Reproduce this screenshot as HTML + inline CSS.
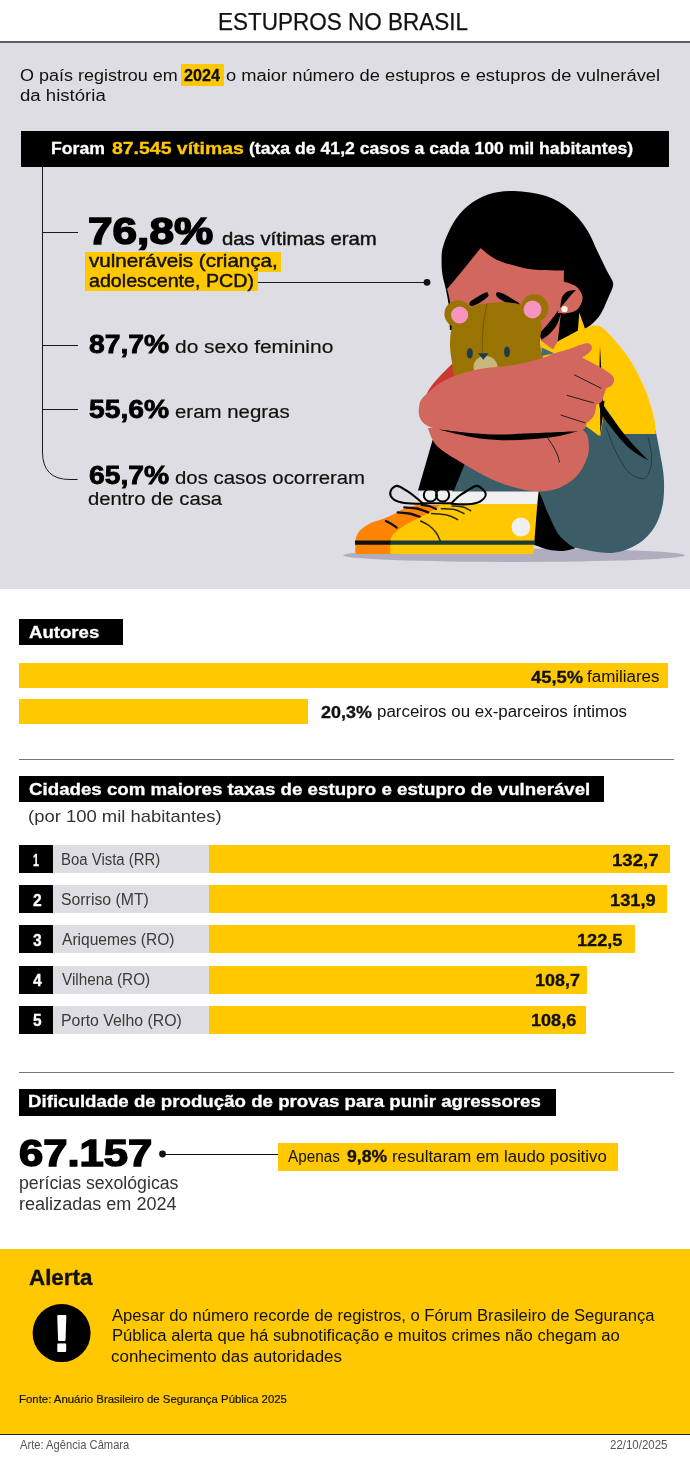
<!DOCTYPE html>
<html lang="pt-BR"><head><meta charset="utf-8"><title>Estupros no Brasil</title>
<style>
html,body{margin:0;padding:0;background:#fff}
body{width:690px;height:1460px;position:relative;overflow:hidden;font-family:"Liberation Sans",sans-serif}
.b{position:absolute}
.t{position:absolute;white-space:nowrap;line-height:1;margin:0;transform-origin:0 0}
svg{position:absolute;left:0;top:0}
</style></head><body>
<div class="b" style="left:0px;top:42.5px;width:690px;height:546.5px;background:#dedde3"></div>
<div class="b" style="left:0px;top:41px;width:690px;height:1.6px;background:#5e5e64"></div>
<div class="b" style="left:181px;top:63.5px;width:43px;height:22.0px;background:#ffc800"></div>
<div class="b" style="left:21px;top:131px;width:647.5px;height:36px;background:#000"></div>
<div class="b" style="left:85px;top:251.5px;width:196px;height:20.5px;background:#ffc800"></div>
<div class="b" style="left:85px;top:271px;width:172.5px;height:20px;background:#ffc800"></div>
<div class="b" style="left:19px;top:619px;width:103.5px;height:26px;background:#000"></div>
<div class="b" style="left:19px;top:662.5px;width:648.7px;height:25.5px;background:#ffc800"></div>
<div class="b" style="left:19px;top:698.5px;width:289.2px;height:25.3px;background:#ffc800"></div>
<div class="b" style="left:19px;top:759px;width:654.5px;height:1px;background:#777"></div>
<div class="b" style="left:19px;top:776px;width:584.5px;height:26px;background:#000"></div>
<div class="b" style="left:52px;top:845.0px;width:157.5px;height:28.2px;background:#dedde3"></div>
<div class="b" style="left:19px;top:845.0px;width:33.9px;height:28.2px;background:#000"></div>
<div class="b" style="left:208.5px;top:845.0px;width:461.5px;height:28.2px;background:#ffc800"></div>
<div class="b" style="left:52px;top:885.1px;width:157.5px;height:28.2px;background:#dedde3"></div>
<div class="b" style="left:19px;top:885.1px;width:33.9px;height:28.2px;background:#000"></div>
<div class="b" style="left:208.5px;top:885.1px;width:458.0px;height:28.2px;background:#ffc800"></div>
<div class="b" style="left:52px;top:925.3px;width:157.5px;height:28.2px;background:#dedde3"></div>
<div class="b" style="left:19px;top:925.3px;width:33.9px;height:28.2px;background:#000"></div>
<div class="b" style="left:208.5px;top:925.3px;width:426.3px;height:28.2px;background:#ffc800"></div>
<div class="b" style="left:52px;top:965.5px;width:157.5px;height:28.2px;background:#dedde3"></div>
<div class="b" style="left:19px;top:965.5px;width:33.9px;height:28.2px;background:#000"></div>
<div class="b" style="left:208.5px;top:965.5px;width:378.1px;height:28.2px;background:#ffc800"></div>
<div class="b" style="left:52px;top:1005.6px;width:157.5px;height:28.2px;background:#dedde3"></div>
<div class="b" style="left:19px;top:1005.6px;width:33.9px;height:28.2px;background:#000"></div>
<div class="b" style="left:208.5px;top:1005.6px;width:377.2px;height:28.2px;background:#ffc800"></div>
<div class="b" style="left:19px;top:1072px;width:654.5px;height:1px;background:#777"></div>
<div class="b" style="left:19px;top:1089px;width:537px;height:26.5px;background:#000"></div>
<div class="b" style="left:277.5px;top:1142.5px;width:340.0px;height:28.5px;background:#ffc800"></div>
<div class="b" style="left:162.5px;top:1153.5px;width:115.5px;height:1.0px;background:#111"></div>
<div class="b" style="left:0px;top:1248.5px;width:690px;height:185.5px;background:#ffc800"></div>
<div class="b" style="left:0px;top:1433.5px;width:690px;height:1.5px;background:#222"></div>
<svg width="690" height="600" viewBox="0 0 690 600">
<path d="M42.5 167V452Q42.5 479.5 70 479.5H77.5" fill="none" stroke="#1a1a1a" stroke-width="1"/>
<path d="M42.5 232.5H77.5M42.5 345.5H77.5M42.5 409.5H77.5" fill="none" stroke="#1a1a1a" stroke-width="1" shape-rendering="crispEdges"/>
<path d="M257.5 282.5H427" stroke="#1a1a1a" stroke-width="1" shape-rendering="crispEdges"/><circle cx="427" cy="282.3" r="3.4" fill="#111"/>
<ellipse cx="514" cy="555.3" rx="171" ry="6.7" fill="#afadbf"/>
<path d="M449.0 306.0C449.0 306.0 447.1 295.2 446.0 290.0C444.9 284.8 443.2 279.7 442.5 275.0C441.8 270.3 441.5 266.7 441.6 262.0C441.7 257.3 441.1 253.1 443.0 246.7C444.9 240.3 448.9 230.3 453.0 223.5C457.1 216.7 461.9 210.8 467.7 206.0C473.5 201.2 480.3 197.0 488.0 194.5C495.7 192.0 504.3 190.8 514.0 191.0C523.7 191.2 536.8 193.0 546.0 196.0C555.2 199.0 562.2 203.5 569.0 209.0C575.8 214.5 581.7 221.8 586.5 229.0C591.3 236.2 594.6 245.5 598.0 252.5C601.4 259.5 604.7 266.4 607.0 271.0C609.3 275.6 611.0 277.5 612.0 280.0C613.0 282.5 613.5 283.3 613.0 286.0C612.5 288.7 611.0 291.4 609.0 296.0C607.0 300.6 603.8 308.9 601.0 313.5C598.2 318.1 595.2 321.0 592.5 323.6C589.8 326.2 585.0 329.0 585.0 329.0C585.0 329.0 556.0 344.0 556.0 344.0C556.0 344.0 540.0 338.0 540.0 338.0C540.0 338.0 450.0 330.0 450.0 330.0C450.0 330.0 449.0 306.0 449.0 306.0Z" fill="#000" />
<path d="M598.0 400.0C598.0 400.0 655.5 430.0 655.5 430.0C655.5 430.0 660.2 453.1 661.6 461.6C663.0 470.2 663.8 474.3 664.0 481.3C664.2 488.3 664.1 496.4 662.9 503.4C661.7 510.3 659.6 517.2 656.7 523.0C653.8 528.8 649.9 533.9 645.6 538.0C641.3 542.1 636.1 545.3 630.8 547.8C625.5 550.2 619.8 552.1 613.6 552.7C607.5 553.3 600.5 552.3 593.9 551.5C587.3 550.7 581.0 548.2 574.0 547.8C567.0 547.4 552.0 549.0 552.0 549.0C552.0 549.0 452.0 492.0 452.0 492.0C452.0 492.0 464.5 461.0 464.5 461.0C464.5 461.0 540.0 430.0 540.0 430.0C540.0 430.0 598.0 400.0 598.0 400.0Z" fill="#3a5d67" />
<path d="M432.6 440.0L418.0 490.5L454.0 490.5L465.5 462.0L450.0 445.0Z" fill="#000" />
<path d="M539.3 492.0C539.3 492.0 541.5 497.4 543.0 501.0C544.5 504.6 545.5 507.9 548.0 513.3C550.5 518.7 554.6 528.5 558.0 533.6C561.4 538.7 565.4 541.3 568.3 543.8C571.2 546.2 575.5 548.3 575.5 548.3C575.5 548.3 567.1 550.8 562.5 551.0C557.9 551.2 553.1 550.8 548.0 549.6C542.9 548.4 532.0 544.0 532.0 544.0C532.0 544.0 532.0 492.0 532.0 492.0C532.0 492.0 539.3 492.0 539.3 492.0Z" fill="#000" />
<path d="M579.3 312.6C579.3 312.6 585.0 328.5 585.0 328.5C585.0 328.5 591.2 325.8 594.0 325.6C596.8 325.4 598.7 325.3 602.0 327.5C605.3 329.7 608.8 333.4 613.6 339.0C618.4 344.6 625.5 352.4 630.8 361.0C636.1 369.6 641.7 381.3 645.6 390.8C649.5 400.3 652.3 410.8 654.0 418.0C655.7 425.2 655.8 434.0 655.8 434.0C655.8 434.0 623.4 434.0 623.4 434.0C623.4 434.0 605.0 407.0 605.0 407.0C605.0 407.0 600.5 436.0 600.5 436.0C600.5 436.0 584.0 425.0 584.0 425.0C584.0 425.0 560.0 390.0 560.0 390.0C560.0 390.0 540.0 356.0 540.0 356.0C540.0 356.0 540.5 340.0 540.5 340.0C540.5 340.0 553.0 349.0 553.0 349.0C553.0 349.0 557.0 342.0 557.0 342.0C557.0 342.0 578.0 330.6 578.0 330.6C578.0 330.6 579.3 312.6 579.3 312.6Z" fill="#ffc800" />
<path d="M600.5 401.0L584.5 424.6L599.0 436.0Z" fill="#ffc800" />
<path d="M600.0 346.0C600.0 346.0 601.4 370.3 602.0 380.0C602.6 389.7 601.7 397.5 603.5 404.0C605.3 410.5 608.7 412.9 613.0 419.0C617.3 425.1 623.6 433.6 629.5 440.5C635.4 447.4 648.5 460.5 648.5 460.5C648.5 460.5 635.4 453.8 629.0 448.0C622.6 442.2 614.8 432.5 610.0 426.0C605.2 419.5 601.8 416.7 600.0 409.0C598.2 401.3 599.4 390.5 599.4 380.0C599.4 369.5 600.0 346.0 600.0 346.0Z" fill="#000" />
<path d="M600.0 402.5L604.5 400.5L603.0 415.0L600.3 434.0Z" fill="#000" />
<path d="M606.0 427.0C607.5 430.8 611.3 442.6 615.0 450.0C618.7 457.4 623.3 466.6 628.0 471.4C632.7 476.2 639.3 479.0 643.0 478.8C646.7 478.6 648.6 474.0 650.0 470.0C651.4 466.0 651.8 460.5 651.5 455.0C651.2 449.5 648.6 440.0 648.0 437.0" fill="none" stroke="#1f3d47" stroke-width="1" stroke-linecap="round" stroke-linejoin="round" />
<path d="M480.7 248.0C480.7 248.0 489.2 256.3 496.7 259.7C504.2 263.1 516.5 266.6 525.7 268.4C534.9 270.1 545.3 269.8 551.7 270.2C558.1 270.6 564.0 270.6 564.0 270.6C564.0 270.6 563.5 300.0 563.5 300.0C563.5 300.0 558.4 312.0 558.4 312.0C558.4 312.0 539.6 333.8 539.6 333.8C539.6 333.8 500.0 345.0 500.0 345.0C500.0 345.0 452.0 330.0 452.0 330.0C452.0 330.0 450.5 304.0 450.5 304.0C450.5 304.0 448.8 295.4 448.2 293.0C447.6 290.6 447.0 289.3 447.0 289.3C447.0 289.3 463.0 270.0 463.0 270.0C463.0 270.0 480.7 248.0 480.7 248.0Z" fill="#d1675d" />
<path d="M558.4 313.0L560.7 315.0L557.8 341.0L553.0 349.5L540.5 340.5L540.0 337.0Z" fill="#d1675d" />
<path d="M558.2 310.5C558.2 310.5 553.7 316.7 551.5 319.5C549.3 322.3 547.1 325.1 545.0 327.5C542.9 329.9 538.8 334.0 538.8 334.0C538.8 334.0 541.8 339.5 541.8 339.5C541.8 339.5 547.5 336.0 550.0 333.5C552.5 331.0 555.2 327.7 557.0 324.5C558.8 321.3 560.5 314.5 560.5 314.5C560.5 314.5 558.2 310.5 558.2 310.5Z" fill="#000" />
<path d="M561.0 281.0C561.0 281.0 567.2 282.3 570.0 283.5C572.8 284.7 575.9 285.8 578.0 288.0C580.1 290.2 582.3 294.0 582.6 297.0C582.9 300.0 581.4 303.6 580.0 306.0C578.6 308.4 576.7 310.2 574.0 311.5C571.3 312.8 564.0 313.5 564.0 313.5C564.0 313.5 558.0 313.0 558.0 313.0C558.0 313.0 561.0 281.0 561.0 281.0Z" fill="#d1675d" />
<path d="M576.0 290.0C576.0 290.0 569.8 290.2 567.5 291.5C565.2 292.8 563.2 294.8 562.0 297.5C560.8 300.2 560.3 308.0 560.3 308.0C560.3 308.0 563.0 304.8 564.5 303.0C566.0 301.2 567.6 299.2 569.0 297.5C570.4 295.8 571.8 294.2 573.0 293.0C574.2 291.8 576.0 290.0 576.0 290.0Z" fill="#000" />
<circle cx="564.5" cy="309.1" r="3.2" fill="#fbf6ee"/>
<path d="M469.5 303.5C469.7 302.8 469.6 302.1 471.0 301.0C472.4 299.9 475.2 298.2 477.7 296.8C480.1 295.4 484.0 293.1 485.7 292.5C487.4 291.9 487.6 292.8 488.0 293.5C488.4 294.2 489.0 295.3 488.0 296.6C487.0 297.9 484.3 299.7 482.0 301.2C479.7 302.7 476.0 304.8 474.0 305.5C472.0 306.2 470.8 305.8 470.0 305.5C469.2 305.2 469.3 304.2 469.5 303.5Z" fill="#000" />
<path d="M496.8 292.5C497.8 292.0 499.7 292.1 502.3 293.2C504.9 294.3 509.7 297.3 512.5 299.0C515.3 300.7 518.2 302.4 519.3 303.5C520.3 304.6 520.4 305.5 518.8 305.6C517.2 305.7 512.6 305.0 509.6 304.0C506.6 303.0 503.1 301.0 500.9 299.7C498.7 298.4 497.3 297.2 496.6 296.0C495.9 294.8 495.9 293.0 496.8 292.5Z" fill="#000" />
<path d="M424.0 400.0C424.0 400.0 427.3 392.0 430.0 388.0C432.7 384.0 436.3 380.0 440.0 376.0C443.7 372.0 452.0 364.0 452.0 364.0C452.0 364.0 462.0 376.0 462.0 376.0C462.0 376.0 440.0 392.0 440.0 392.0C440.0 392.0 424.0 400.0 424.0 400.0Z" fill="#c9392f" />
<circle cx="458" cy="313.8" r="13.6" fill="#9a7402"/><circle cx="534.5" cy="308.3" r="14" fill="#9a7402"/>
<path d="M452.5 366.0C451.7 360.0 450.1 352.3 450.0 346.0C449.9 339.7 450.4 333.2 451.7 328.0C453.0 322.8 454.9 318.5 458.0 315.0C461.1 311.5 464.7 309.0 470.0 307.0C475.3 305.0 482.7 303.7 490.0 303.0C497.3 302.3 507.3 302.0 514.0 303.0C520.7 304.0 525.5 305.7 530.0 309.0C534.5 312.3 539.3 317.5 541.0 323.0C542.7 328.5 539.8 336.5 540.0 342.0C540.2 347.5 541.5 351.0 542.5 356.0C543.5 361.0 546.0 372.0 546.0 372.0C546.0 372.0 455.0 382.0 455.0 382.0C455.0 382.0 453.3 372.0 452.5 366.0Z" fill="#9a7402" />
<circle cx="459.6" cy="315" r="8.6" fill="#f693bf"/><circle cx="532.5" cy="309.5" r="9" fill="#f693bf"/>
<path d="M541.7 347.5L554.0 353.3L541.7 356.0Z" fill="#3f6b7c" />
<path d="M487.0 304.0C486.5 306.7 484.8 314.3 484.0 320.0C483.2 325.7 482.8 332.7 482.5 338.0C482.2 343.3 482.5 349.7 482.5 352.0" fill="none" stroke="#6e5809" stroke-width="1" stroke-linecap="round" stroke-linejoin="round" />
<ellipse cx="485.5" cy="367" rx="12" ry="11" fill="#c9b57e"/>
<ellipse cx="469.8" cy="353.3" rx="3" ry="5.2" fill="#1e3b4a"/><ellipse cx="507" cy="351.8" rx="3" ry="5.2" fill="#1e3b4a"/>
<path d="M478.0 353.3L488.6 353.3L483.3 359.8Z" fill="#1e3b4a" />
<path d="M428.0 428.0C428.0 428.0 431.2 440.1 437.0 446.0C442.8 451.9 454.3 458.2 463.0 463.5C471.7 468.8 480.8 474.1 489.0 478.0C497.2 481.9 504.2 484.5 512.0 486.7C519.8 488.9 528.0 491.0 535.5 491.3C543.0 491.6 550.1 491.2 557.0 488.7C563.9 486.1 571.5 481.6 576.7 476.0C581.9 470.4 586.2 461.7 588.0 455.0C589.8 448.3 588.8 440.5 587.5 436.0C586.2 431.5 580.0 428.0 580.0 428.0C580.0 428.0 500.0 424.0 500.0 424.0C500.0 424.0 428.0 428.0 428.0 428.0Z" fill="#d1675d" />
<path d="M547.0 437.0C548.0 438.5 551.2 443.0 553.0 446.0C554.8 449.0 556.4 452.3 557.5 455.0C558.6 457.7 559.1 460.8 559.4 462.0" fill="none" stroke="#222" stroke-width="1" stroke-linecap="round" stroke-linejoin="round" />
<path d="M418.8 409.6C419.0 406.6 419.3 402.9 421.0 400.0C422.7 397.1 425.8 394.8 429.0 392.0C432.2 389.2 435.2 385.9 440.0 383.0C444.8 380.1 451.3 377.1 458.0 374.8C464.7 372.5 470.3 370.7 480.0 369.0C489.7 367.3 505.2 366.6 516.0 364.6C526.8 362.6 539.0 358.8 545.0 357.0C551.0 355.2 548.0 355.3 552.0 354.0C556.0 352.7 564.4 350.6 569.3 349.0C574.2 347.4 578.3 345.4 581.6 344.5C584.9 343.6 587.3 343.0 589.0 343.5C590.7 344.0 592.0 346.2 592.0 347.7C592.0 349.2 590.7 351.1 589.0 352.7C587.3 354.3 582.0 357.5 582.0 357.5C582.0 357.5 589.5 361.2 594.0 363.7C598.5 366.2 605.4 369.9 608.7 372.4C612.0 374.9 613.4 376.4 614.0 378.5C614.6 380.6 613.7 383.0 612.4 384.7C611.1 386.4 606.2 388.6 606.2 388.6C606.2 388.6 604.5 393.6 603.7 395.8C602.9 398.0 602.5 400.5 601.3 402.0C600.1 403.5 596.4 404.6 596.4 404.6C596.4 404.6 595.8 410.6 595.0 413.0C594.2 415.4 592.8 417.3 591.4 419.0C590.0 420.7 586.5 423.0 586.5 423.0C586.5 423.0 586.5 426.2 585.3 427.8C584.0 429.4 579.0 432.5 579.0 432.5C579.0 432.5 584.9 431.2 576.8 431.3C568.7 431.4 543.0 432.8 530.4 433.3C517.8 433.8 511.0 434.5 501.4 434.5C491.8 434.5 483.1 434.1 472.5 433.3C461.9 432.5 437.7 429.6 437.7 429.6C437.7 429.6 428.9 426.9 426.0 425.0C423.1 423.1 421.2 420.6 420.0 418.0C418.8 415.4 418.6 412.6 418.8 409.6Z" fill="#d1675d" />
<path d="M437.7 429.3C437.7 429.3 461.9 432.4 472.5 433.3C483.1 434.2 491.8 434.5 501.4 434.5C511.0 434.5 517.7 433.8 530.4 433.3C543.1 432.8 577.5 431.3 577.5 431.3C577.5 431.3 567.2 434.6 559.4 435.9C551.5 437.2 540.1 438.6 530.4 439.3C520.7 440.0 511.0 440.5 501.4 440.2C491.8 439.9 483.1 439.1 472.5 437.3C461.9 435.5 437.7 429.3 437.7 429.3Z" fill="#000" />
<path d="M574.2 374.8L601.3 388.4" stroke="#222" stroke-width="1"/>
<path d="M566.8 395.3L593.9 403" stroke="#222" stroke-width="1"/>
<path d="M560.6 415L585.3 422.9" stroke="#222" stroke-width="1"/>
<path d="M356.5 553.9C356.5 553.9 355.3 552.0 355.3 552.0C355.3 552.0 355.3 541.0 355.3 541.0C355.3 541.0 356.0 537.3 356.8 535.5C357.6 533.7 357.8 532.4 360.0 530.4C362.2 528.4 366.2 525.3 370.3 523.3C374.4 521.3 380.3 520.0 384.5 518.3C388.7 516.6 392.4 514.8 395.6 513.2C398.8 511.7 399.5 510.5 403.8 509.0C408.1 507.5 414.8 505.1 421.7 504.3C428.6 503.5 445.0 504.0 445.0 504.0C445.0 504.0 445.0 553.9 445.0 553.9C445.0 553.9 356.5 553.9 356.5 553.9Z" fill="#ff8403" />
<path d="M419.0 491.5L538.6 491.5L537.2 505.0L419.0 505.0Z" fill="#f0f0f0" />
<path d="M390.2 553.9C390.2 553.9 390.2 541.7 390.2 541.7C390.2 541.7 390.8 538.5 391.5 537.0C392.2 535.5 392.1 535.1 394.6 533.0C397.1 530.9 402.0 527.0 406.5 524.3C411.0 521.6 417.0 519.2 421.7 516.7C426.4 514.2 431.4 511.1 434.8 509.0C438.2 506.9 442.0 503.9 442.0 503.9C442.0 503.9 537.3 503.9 537.3 503.9C537.3 503.9 533.5 553.9 533.5 553.9C533.5 553.9 390.2 553.9 390.2 553.9Z" fill="#ffc800" />
<path d="M355.0 540.4L391.0 540.4L391.0 544.8L355.0 544.8Z" fill="#111" />
<path d="M390.5 540.4L534.6 540.4L534.2 544.8L390.5 544.8Z" fill="#1d3a36" />
<circle cx="520.9" cy="527" r="9.4" fill="#f0f0f0"/>
<path d="M385.9 521.0C386.8 521.5 389.7 522.9 391.5 524.0C393.3 525.1 395.8 527.0 396.7 527.6" fill="none" stroke="#111" stroke-width="2.3" stroke-linecap="round" stroke-linejoin="round" />
<path d="M397.8 512.4C399.7 512.6 405.4 512.8 409.0 513.5C412.6 514.2 417.8 516.2 419.6 516.7" fill="none" stroke="#111" stroke-width="2.3" stroke-linecap="round" stroke-linejoin="round" />
<path d="M404.3 507.4C406.4 507.6 413.0 507.7 417.0 508.5C421.0 509.3 426.4 511.8 428.3 512.4" fill="none" stroke="#111" stroke-width="2.3" stroke-linecap="round" stroke-linejoin="round" />
<path d="M421.7 504.8C422.9 505.0 426.6 505.3 429.0 506.0C431.4 506.7 434.8 508.5 435.9 509.0" fill="none" stroke="#111" stroke-width="2.3" stroke-linecap="round" stroke-linejoin="round" />
<path d="M420.7 521.0C422.1 521.8 426.4 523.6 429.0 525.5C431.6 527.4 434.1 530.0 436.0 532.5C437.9 535.0 439.5 539.3 440.2 540.7" fill="none" stroke="#2a2a1a" stroke-width="1.5" stroke-linecap="round" stroke-linejoin="round" />
<path d="M431.5 513.5C434.2 513.8 443.4 514.2 447.8 515.2C452.2 516.2 456.0 518.9 457.6 519.6" fill="none" stroke="#2a2a1a" stroke-width="1.5" stroke-linecap="round" stroke-linejoin="round" />
<path d="M441.3 508.7C443.5 508.9 450.5 508.8 454.3 509.6C458.1 510.4 462.4 512.9 464.0 513.5" fill="none" stroke="#2a2a1a" stroke-width="1.5" stroke-linecap="round" stroke-linejoin="round" />
<path d="M452.0 505.9C453.8 506.1 459.9 506.2 463.0 507.0C466.1 507.8 469.4 510.1 470.7 510.7" fill="none" stroke="#2a2a1a" stroke-width="1.5" stroke-linecap="round" stroke-linejoin="round" />
<path d="M422.5 503.2C422.5 503.2 416.7 498.1 414.0 496.0C411.3 493.9 409.4 492.4 406.5 490.7C403.6 489.0 399.4 485.7 396.7 485.9C394.0 486.1 390.9 489.5 390.4 491.7C389.9 493.9 391.2 497.4 393.5 499.3C395.8 501.2 399.5 502.2 404.3 503.0C409.1 503.8 422.5 503.8 422.5 503.8" fill="none" stroke="#000" stroke-width="2.1" stroke-linecap="round" stroke-linejoin="round" />
<path d="M451.5 503.2C451.5 503.2 456.4 498.1 459.0 496.0C461.6 493.9 464.4 492.4 467.4 490.7C470.4 489.0 474.1 485.4 477.2 485.9C480.2 486.4 485.2 490.9 485.7 493.5C486.2 496.1 483.4 499.5 480.4 501.3C477.3 503.1 472.2 503.9 467.4 504.3C462.6 504.7 451.5 503.8 451.5 503.8" fill="none" stroke="#000" stroke-width="2.1" stroke-linecap="round" stroke-linejoin="round" />
<circle cx="430.4" cy="495" r="6.6" fill="none" stroke="#000" stroke-width="2"/>
<circle cx="442.6" cy="495" r="6.6" fill="none" stroke="#000" stroke-width="2"/>
<path d="M422 503.3L452 503.3" fill="none" stroke="#000" stroke-width="2" stroke-linecap="round" stroke-linejoin="round" />
</svg><svg width="690" height="1460" viewBox="0 0 690 1460" style="pointer-events:none">
<circle cx="162.5" cy="1154" r="3.4" fill="#111"/>
<circle cx="61.6" cy="1333.1" r="29" fill="#000"/>
<text x="61.9" y="1350.9" text-anchor="middle" font-family="Liberation Sans, sans-serif" font-weight="700" font-size="50" fill="#fff" stroke="#fff" stroke-width="1.8" stroke-linejoin="round">!</text>
</svg>

<div class="t" id="t0" style="left:217.6px;top:9.88px;font-size:24px;font-weight:400;color:#111;transform:scaleX(0.9371);-webkit-text-stroke:0.25px #111">ESTUPROS NO BRASIL</div>
<div class="t" id="t1" style="left:19.8px;top:67.06px;font-size:17.3px;font-weight:400;color:#111;transform:scaleX(1.0400)">O país registrou em</div>
<div class="t" id="t2" style="left:184.2px;top:67.06px;font-size:17.3px;font-weight:700;color:#111;transform:scaleX(0.9334);-webkit-text-stroke:0.3px #111">2024</div>
<div class="t" id="t3" style="left:226.2px;top:67.06px;font-size:17.3px;font-weight:400;color:#111;transform:scaleX(1.0608)">o maior número de estupros e estupros de vulnerável</div>
<div class="t" id="t4" style="left:19.8px;top:87.06px;font-size:17.3px;font-weight:400;color:#111;transform:scaleX(1.0759)">da história</div>
<div class="t" id="t5" style="left:51.0px;top:140.44px;font-size:17.2px;font-weight:700;color:#fff;transform:scaleX(1.0275);-webkit-text-stroke:0.3px #fff">Foram</div>
<div class="t" id="t6" style="left:111.6px;top:140.44px;font-size:17.2px;font-weight:700;color:#ffc800;transform:scaleX(1.1310);-webkit-text-stroke:0.3px #ffc800">87.545 vítimas</div>
<div class="t" id="t7" style="left:248.8px;top:140.44px;font-size:17.2px;font-weight:700;color:#fff;transform:scaleX(1.0257);-webkit-text-stroke:0.3px #fff">(taxa de 41,2 casos a cada 100 mil habitantes)</div>
<div class="t" id="t8" style="left:88.2px;top:213.04px;font-size:37.4px;font-weight:700;color:#000;transform:scaleX(1.1810);-webkit-text-stroke:1.5px #000">76,8%</div>
<div class="t" id="t9" style="left:221.8px;top:228.92px;font-size:19px;font-weight:400;color:#111;transform:scaleX(1.0700);-webkit-text-stroke:0.45px #111">das vítimas eram</div>
<div class="t" id="t10" style="left:89.2px;top:250.62px;font-size:19px;font-weight:400;color:#111;transform:scaleX(1.0832);-webkit-text-stroke:0.45px #111">vulneráveis (criança,</div>
<div class="t" id="t11" style="left:89.2px;top:270.62px;font-size:19px;font-weight:400;color:#111;transform:scaleX(1.0342);-webkit-text-stroke:0.45px #111">adolescente, PCD)</div>
<div class="t" id="t12" style="left:89.0px;top:332.16px;font-size:25.8px;font-weight:700;color:#000;transform:scaleX(1.0959);-webkit-text-stroke:0.8px #000">87,7%</div>
<div class="t" id="t13" style="left:174.8px;top:338.09px;font-size:18.8px;font-weight:400;color:#111;transform:scaleX(1.1149);-webkit-text-stroke:0.2px #111">do sexo feminino</div>
<div class="t" id="t14" style="left:89.0px;top:397.46px;font-size:25.8px;font-weight:700;color:#000;transform:scaleX(1.0959);-webkit-text-stroke:0.8px #000">55,6%</div>
<div class="t" id="t15" style="left:174.8px;top:403.39px;font-size:18.8px;font-weight:400;color:#111;transform:scaleX(1.0876);-webkit-text-stroke:0.2px #111">eram negras</div>
<div class="t" id="t16" style="left:89.0px;top:463.16px;font-size:25.8px;font-weight:700;color:#000;transform:scaleX(1.0959);-webkit-text-stroke:0.8px #000">65,7%</div>
<div class="t" id="t17" style="left:174.8px;top:469.09px;font-size:18.8px;font-weight:400;color:#111;transform:scaleX(1.0839);-webkit-text-stroke:0.2px #111">dos casos ocorreram</div>
<div class="t" id="t18" style="left:88.2px;top:490.09px;font-size:18.8px;font-weight:400;color:#111;transform:scaleX(1.0790);-webkit-text-stroke:0.2px #111">dentro de casa</div>
<div class="t" id="t19" style="left:29.0px;top:623.61px;font-size:17px;font-weight:700;color:#fff;transform:scaleX(1.0938);-webkit-text-stroke:0.3px #fff">Autores</div>
<div class="t" id="t20" style="left:530.6px;top:668.79px;font-size:16.2px;font-weight:700;color:#111;transform:scaleX(1.1349);-webkit-text-stroke:0.3px #111">45,5%</div>
<div class="t" id="t21" style="left:587.2px;top:668.96px;font-size:16px;font-weight:400;color:#111;transform:scaleX(1.0589)">familiares</div>
<div class="t" id="t22" style="left:321.0px;top:704.29px;font-size:16.2px;font-weight:700;color:#111;transform:scaleX(1.1072);-webkit-text-stroke:0.3px #111">20,3%</div>
<div class="t" id="t23" style="left:377.0px;top:704.46px;font-size:16px;font-weight:400;color:#111;transform:scaleX(1.0570)">parceiros ou ex-parceiros íntimos</div>
<div class="t" id="t24" style="left:29.0px;top:780.61px;font-size:17px;font-weight:700;color:#fff;transform:scaleX(1.1002);-webkit-text-stroke:0.3px #fff">Cidades com maiores taxas de estupro e estupro de vulnerável</div>
<div class="t" id="t25" style="left:28.0px;top:807.61px;font-size:17px;font-weight:400;color:#333;transform:scaleX(1.0847)">(por 100 mil habitantes)</div>
<div class="t" id="t26" style="left:33.2px;top:851.83px;font-size:16.5px;font-weight:700;color:#fff;transform:scaleX(0.6429);-webkit-text-stroke:0.3px #fff">1</div>
<div class="t" id="t27" style="left:61.0px;top:852.06px;font-size:16px;font-weight:400;color:#3a3a3a;transform:scaleX(0.9327)">Boa Vista (RR)</div>
<div class="t" id="t28" style="left:612.0px;top:851.80px;font-size:16.3px;font-weight:700;color:#111;transform:scaleX(1.1404);-webkit-text-stroke:0.3px #111">132,7</div>
<div class="t" id="t29" style="left:32.6px;top:891.95px;font-size:16.5px;font-weight:700;color:#fff;transform:scaleX(0.9461);-webkit-text-stroke:0.3px #fff">2</div>
<div class="t" id="t30" style="left:61.0px;top:892.18px;font-size:16px;font-weight:400;color:#3a3a3a;transform:scaleX(0.9885)">Sorriso (MT)</div>
<div class="t" id="t31" style="left:609.6px;top:891.92px;font-size:16.3px;font-weight:700;color:#111;transform:scaleX(1.1182);-webkit-text-stroke:0.3px #111">131,9</div>
<div class="t" id="t32" style="left:32.6px;top:932.07px;font-size:16.5px;font-weight:700;color:#fff;transform:scaleX(0.9461);-webkit-text-stroke:0.3px #fff">3</div>
<div class="t" id="t33" style="left:62.0px;top:932.30px;font-size:16px;font-weight:400;color:#3a3a3a;transform:scaleX(0.9738)">Ariquemes (RO)</div>
<div class="t" id="t34" style="left:576.6px;top:932.04px;font-size:16.3px;font-weight:700;color:#111;transform:scaleX(1.1154);-webkit-text-stroke:0.3px #111">122,5</div>
<div class="t" id="t35" style="left:32.6px;top:972.19px;font-size:16.5px;font-weight:700;color:#fff;transform:scaleX(0.9461);-webkit-text-stroke:0.3px #fff">4</div>
<div class="t" id="t36" style="left:62.0px;top:972.42px;font-size:16px;font-weight:400;color:#3a3a3a;transform:scaleX(0.9560)">Vilhena (RO)</div>
<div class="t" id="t37" style="left:535.0px;top:972.16px;font-size:16.3px;font-weight:700;color:#111;transform:scaleX(1.1027);-webkit-text-stroke:0.3px #111">108,7</div>
<div class="t" id="t38" style="left:32.6px;top:1012.31px;font-size:16.5px;font-weight:700;color:#fff;transform:scaleX(0.9344);-webkit-text-stroke:0.3px #fff">5</div>
<div class="t" id="t39" style="left:61.0px;top:1012.54px;font-size:16px;font-weight:400;color:#3a3a3a;transform:scaleX(0.9916)">Porto Velho (RO)</div>
<div class="t" id="t40" style="left:531.2px;top:1012.28px;font-size:16.3px;font-weight:700;color:#111;transform:scaleX(1.1100);-webkit-text-stroke:0.3px #111">108,6</div>
<div class="t" id="t41" style="left:28.0px;top:1093.21px;font-size:17px;font-weight:700;color:#fff;transform:scaleX(1.0989);-webkit-text-stroke:0.3px #fff">Dificuldade de produção de provas para punir agressores</div>
<div class="t" id="t42" style="left:19.0px;top:1134.73px;font-size:37.3px;font-weight:700;color:#000;transform:scaleX(1.1682);-webkit-text-stroke:1.5px #000">67.157</div>
<div class="t" id="t43" style="left:19.0px;top:1175.10px;font-size:17.6px;font-weight:400;color:#333;transform:scaleX(1.0064)">perícias sexológicas</div>
<div class="t" id="t44" style="left:19.0px;top:1196.10px;font-size:17.6px;font-weight:400;color:#333;transform:scaleX(1.0263)">realizadas em 2024</div>
<div class="t" id="t45" style="left:288.0px;top:1149.46px;font-size:16px;font-weight:400;color:#111;transform:scaleX(0.9552)">Apenas</div>
<div class="t" id="t46" style="left:346.8px;top:1149.46px;font-size:16px;font-weight:700;color:#111;transform:scaleX(1.1000);-webkit-text-stroke:0.3px #111">9,8%</div>
<div class="t" id="t47" style="left:392.4px;top:1149.46px;font-size:16px;font-weight:400;color:#111;transform:scaleX(1.0500)">resultaram em laudo positivo</div>
<div class="t" id="t48" style="left:29.0px;top:1266.98px;font-size:22px;font-weight:700;color:#111;transform:scaleX(1.0159);-webkit-text-stroke:0.35px #111">Alerta</div>
<div class="t" id="t49" style="left:112.2px;top:1308.46px;font-size:16px;font-weight:400;color:#111;transform:scaleX(1.0391)">Apesar do número recorde de registros, o Fórum Brasileiro de Segurança</div>
<div class="t" id="t50" style="left:112.2px;top:1328.46px;font-size:16px;font-weight:400;color:#111;transform:scaleX(1.0398)">Pública alerta que há subnotificação e muitos crimes não chegam ao</div>
<div class="t" id="t51" style="left:111.0px;top:1348.76px;font-size:16px;font-weight:400;color:#111;transform:scaleX(1.0599)">conhecimento das autoridades</div>
<div class="t" id="t52" style="left:19.0px;top:1393.61px;font-size:11.8px;font-weight:400;color:#111;transform:scaleX(0.9659);-webkit-text-stroke:0.2px #111">Fonte: Anuário Brasileiro de Segurança Pública 2025</div>
<div class="t" id="t53" style="left:20.0px;top:1440.13px;font-size:11.9px;font-weight:400;color:#555;transform:scaleX(0.9397)">Arte: Agência Câmara</div>
<div class="t" id="t54" style="left:610.0px;top:1440.13px;font-size:11.9px;font-weight:400;color:#555;transform:scaleX(0.9662)">22/10/2025</div>
</body></html>
